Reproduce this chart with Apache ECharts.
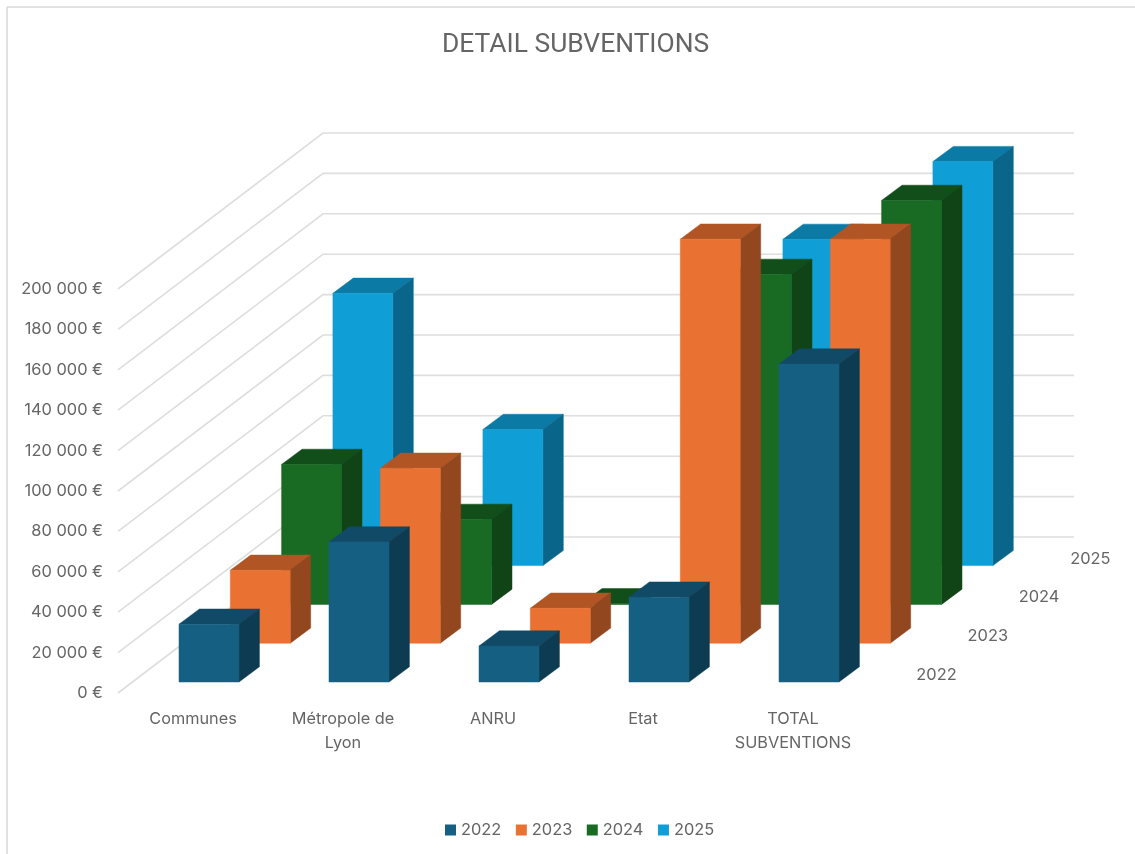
<!DOCTYPE html>
<html>
<head>
<meta charset="utf-8">
<style>html,body{margin:0;padding:0;background:#fff}#c{width:1135px;height:854px}</style>
<script src="https://cdn.jsdelivr.net/npm/echarts@6/dist/echarts.min.js"></script>
</head>
<body>
<div id="c"></div>
<script>
const categories = ['Communes', 'Métropole de\nLyon', 'ANRU', 'Etat', 'TOTAL\nSUBVENTIONS'];
const years = ['2022', '2023', '2024', '2025'];
const values2022 = [28600, 69300, 17800, 42000, 157400];
const values2023 = [36100, 86600, 17300, 200000, 200000];
const values2024 = [69300, 42100, 300, 163400, 200000];
const values2025 = [134800, 67400, null, 161500, 200000];
const yTicks = [0, 20000, 40000, 60000, 80000, 100000, 120000, 140000, 160000, 180000, 200000];

const faces = [
  {front: '#156082', top: '#114A66', side: '#0D3C52'},
  {front: '#E97132', top: '#B05523', side: '#93471F'},
  {front: '#196B24', top: '#124E19', side: '#104416'},
  {front: '#0F9ED5', top: '#0B7AA5', side: '#096589'}
];
const FONT = 'Inter';
const GREY = '#656565';
const rowDx = 51.3, rowDy = 38.8;
const wallDx = 205, wallDy = 156;
const barInset = 61, floorGap = 11, barW = 60, depthX = 20.4, depthY = 15.2;

function barRender(row) {
  return function (params, api) {
    const v = api.value(1);
    if (v === null || v === undefined || isNaN(v)) return null;
    const cat = api.value(0);
    const c0 = api.coord([cat, 0]);
    const c1 = api.coord([cat, v]);
    const band = api.size([1, 0])[0];
    const x0 = c0[0] - band / 2 + barInset + row * rowDx;
    const x1 = x0 + barW;
    const shift = floorGap + row * rowDy;
    const yb = c0[1] - shift;
    const yt = c1[1] - shift;
    const f = faces[row];
    const poly = (pts, fill) => ({type: 'polygon', shape: {points: pts}, style: {fill: fill, stroke: fill, lineWidth: 0.5}});
    return {type: 'group', children: [
      poly([[x0, yt], [x1, yt], [x1 + depthX, yt - depthY], [x0 + depthX, yt - depthY]], f.top),
      poly([[x1, yt], [x1 + depthX, yt - depthY], [x1 + depthX, yb - depthY], [x1, yb]], f.side),
      poly([[x0, yb], [x1, yb], [x1, yt], [x0, yt]], f.front)
    ]};
  };
}

function wallRender(params, api) {
  const c = api.coord([0, api.value(0)]);
  const band = api.size([1, 0])[0];
  const xl = c[0] - band / 2;
  const xr = xl + band * categories.length + wallDx + 1;
  return {type: 'polyline', shape: {points: [[xl, c[1]], [xl + wallDx, c[1] - wallDy], [xr, c[1] - wallDy]]},
    style: {stroke: '#DEDEDE', lineWidth: 1.6, fill: null}};
}

function depthLabelRender(params, api) {
  const i = params.dataIndex;
  const c = api.coord([categories.length - 1, 0]);
  const band = api.size([1, 0])[0];
  return {type: 'text', style: {
    text: years[i], x: c[0] + band / 2 + 68.5 + i * rowDx, y: c[1] - 18 - i * rowDy,
    align: 'center', verticalAlign: 'middle', fill: GREY, font: '16.4px ' + FONT
  }};
}

const allValues = [values2022, values2023, values2024, values2025];
const barSeries = years.map((y, row) => ({
  name: y, type: 'custom', z: 5 - row + 5, coordinateSystem: 'cartesian2d',
  itemStyle: {color: faces[row].front},
  renderItem: barRender(row),
  encode: {x: 0, y: 1},
  data: allValues[row].map((v, i) => [i, v])
}));

const chart = echarts.init(document.getElementById('c'), null, {renderer: 'canvas'});
chart.setOption({
  animation: false,
  backgroundColor: '#fff',
  title: {text: 'DETAIL SUBVENTIONS', left: 442, top: 32, padding: 0,
    textStyle: {fontFamily: 'Roboto', fontSize: 26.4, fontWeight: 'normal', color: GREY}},
  legend: {data: years, left: 445, top: 822, icon: 'rect', itemWidth: 11, itemHeight: 11, itemGap: 14.5, padding: 0,
    textStyle: {fontFamily: FONT, fontSize: 16.4, color: GREY}, selectedMode: false},
  grid: {left: 118, top: 289, width: 750, height: 404},
  xAxis: {type: 'category', data: categories,
    axisLine: {show: false}, axisTick: {show: false},
    axisLabel: {margin: 14, fontFamily: FONT, fontSize: 16.3, color: GREY, lineHeight: 24, interval: 0}},
  yAxis: {type: 'value', min: 0, max: 200000, interval: 20000,
    axisLine: {show: false}, axisTick: {show: false}, splitLine: {show: false},
    axisLabel: {margin: 15, fontFamily: FONT, fontSize: 16.4, color: GREY, padding: [6, 0, 0, 0],
      formatter: v => String(v).replace(/\B(?=(\d{3})+$)/g, ' ') + ' €'}},
  graphic: [
    {type: 'line', shape: {x1: 7, y1: 7, x2: 1135, y2: 7}, style: {stroke: '#D9D9D9', lineWidth: 1.5}},
    {type: 'line', shape: {x1: 7, y1: 7, x2: 7, y2: 854}, style: {stroke: '#D9D9D9', lineWidth: 1.5}}
  ],
  series: [
    {type: 'custom', z: 1, silent: true, renderItem: wallRender, encode: {y: 0}, data: yTicks.map(t => [t])},
    {type: 'custom', z: 2, silent: true, renderItem: depthLabelRender, data: years.map((y, i) => [i])}
  ].concat(barSeries)
});
</script>
</body>
</html>
